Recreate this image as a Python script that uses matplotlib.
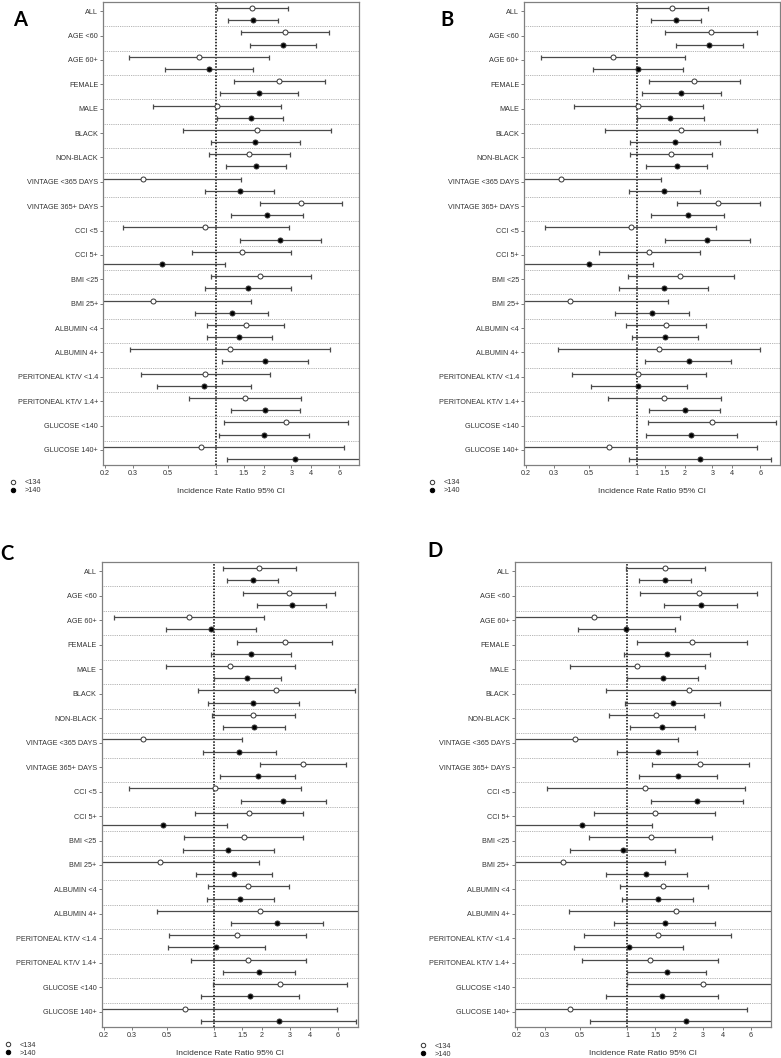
import numpy as np
import matplotlib.pyplot as plt
from matplotlib.lines import Line2D

plt.rcParams['font.family'] = ['Liberation Sans', 'DejaVu Sans']

groups = ['ALL', 'AGE <60', 'AGE 60+', 'FEMALE', 'MALE', 'BLACK', 'NON-BLACK',
          'VINTAGE <365 DAYS', 'VINTAGE 365+ DAYS', 'CCI <5', 'CCI 5+', 'BMI <25', 'BMI 25+',
          'ALBUMIN <4', 'ALBUMIN 4+', 'PERITONEAL KT/V <1.4', 'PERITONEAL KT/V 1.4+',
          'GLUCOSE <140', 'GLUCOSE 140+']
xticks = [0.2, 0.3, 0.5, 1, 1.5, 2, 3, 4, 6]
xtick_labels = ['0.2', '0.3', '0.5', '1', '1.5', '2', '3', '4', '6']
series_labels = ['<134', '>140']

# (IRR, lower 95% CI, upper 95% CI) per subgroup
a_lt134 = [(1.70, 1.02, 2.85), (2.74, 1.45, 5.20), (0.78, 0.281, 2.17), (2.51, 1.31, 4.88),
           (1.01, 0.402, 2.56), (1.82, 0.622, 5.33), (1.62, 0.90, 2.92), (0.348, 0.15, 1.44),
           (3.44, 1.89, 6.28), (0.86, 0.261, 2.88), (1.47, 0.71, 2.99), (1.91, 0.925, 4.0),
           (0.402, 0.15, 1.66), (1.55, 0.88, 2.70), (1.23, 0.289, 5.22), (0.86, 0.338, 2.20),
           (1.52, 0.675, 3.44), (2.77, 1.13, 6.85), (0.80, 0.15, 6.40)]
a_gt140 = [(1.72, 1.20, 2.48), (2.64, 1.64, 4.30), (0.90, 0.479, 1.71), (1.87, 1.06, 3.30),
           (1.66, 1.02, 2.66), (1.76, 0.925, 3.38), (1.79, 1.16, 2.77), (1.41, 0.86, 2.32),
           (2.09, 1.24, 3.56), (2.55, 1.41, 4.58), (0.454, 0.15, 1.15), (1.60, 0.85, 3.0),
           (1.26, 0.74, 2.14), (1.40, 0.88, 2.27), (2.05, 1.10, 3.79), (0.84, 0.426, 1.66),
           (2.05, 1.24, 3.41), (2.02, 1.05, 3.88), (3.16, 1.18, 9.0)]

b_lt134 = [(1.67, 1.0, 2.82), (2.93, 1.50, 5.71), (0.708, 0.25, 2.02), (2.30, 1.19, 4.50),
           (1.02, 0.404, 2.61), (1.90, 0.633, 5.71), (1.64, 0.90, 2.99), (0.333, 0.15, 1.43),
           (3.26, 1.78, 5.97), (0.916, 0.265, 3.17), (1.20, 0.577, 2.51), (1.88, 0.877, 4.08),
           (0.378, 0.15, 1.58), (1.53, 0.856, 2.74), (1.38, 0.319, 5.97), (1.02, 0.391, 2.73),
           (1.49, 0.655, 3.40), (2.96, 1.17, 7.54), (0.668, 0.15, 5.71)]
b_gt140 = [(1.76, 1.22, 2.53), (2.86, 1.76, 4.66), (1.02, 0.531, 1.96), (1.91, 1.08, 3.40),
           (1.61, 1.0, 2.65), (1.73, 0.90, 3.36), (1.78, 1.14, 2.78), (1.48, 0.89, 2.49),
           (2.09, 1.22, 3.56), (2.79, 1.51, 5.16), (0.496, 0.15, 1.26), (1.48, 0.769, 2.82),
           (1.24, 0.73, 2.13), (1.50, 0.925, 2.42), (2.12, 1.13, 3.95), (1.02, 0.513, 2.06),
           (2.0, 1.20, 3.34), (2.20, 1.14, 4.29), (2.51, 0.898, 7.05)]

c_lt134 = [(1.92, 1.13, 3.26), (2.96, 1.51, 5.80), (0.693, 0.234, 2.07), (2.78, 1.39, 5.55),
           (1.25, 0.493, 3.22), (2.45, 0.79, 7.67), (1.76, 0.967, 3.22), (0.352, 0.15, 1.50),
           (3.64, 1.94, 6.77), (1.01, 0.29, 3.53), (1.65, 0.76, 3.60), (1.53, 0.639, 3.65),
           (0.456, 0.15, 1.91), (1.64, 0.917, 2.97), (1.95, 0.433, 9.0), (1.39, 0.517, 3.80),
           (1.63, 0.707, 3.78), (2.58, 0.986, 6.87), (0.655, 0.15, 5.92)]
c_gt140 = [(1.76, 1.21, 2.53), (3.07, 1.87, 5.07), (0.948, 0.493, 1.84), (1.70, 0.948, 3.06),
           (1.61, 1.0, 2.65), (1.76, 0.917, 3.40), (1.78, 1.14, 2.78), (1.44, 0.845, 2.45),
           (1.88, 1.09, 3.22), (2.72, 1.47, 5.05), (0.476, 0.15, 1.21), (1.22, 0.633, 2.38),
           (1.33, 0.771, 2.31), (1.46, 0.904, 2.38), (2.47, 1.28, 4.85), (1.03, 0.512, 2.09),
           (1.91, 1.13, 3.22), (1.68, 0.829, 3.42), (2.55, 0.829, 7.82)]

d_lt134 = [(1.74, 0.985, 3.09), (2.82, 1.21, 6.53), (0.614, 0.15, 2.14), (2.56, 1.15, 5.70),
           (1.15, 0.433, 3.10), (2.46, 0.737, 9.0), (1.52, 0.763, 3.06), (0.466, 0.15, 2.09),
           (2.88, 1.44, 5.82), (1.30, 0.309, 5.52), (1.49, 0.614, 3.59), (1.40, 0.571, 3.42),
           (0.395, 0.15, 1.72), (1.69, 0.895, 3.22), (2.03, 0.427, 9.0), (1.55, 0.536, 4.52),
           (1.38, 0.515, 3.71), (3.0, 1.0, 9.0), (0.437, 0.15, 5.68)]
d_gt140 = [(1.73, 1.19, 2.53), (2.91, 1.71, 4.93), (0.985, 0.486, 2.01), (1.79, 0.957, 3.34),
           (1.67, 1.0, 2.80), (1.93, 0.962, 3.86), (1.66, 1.04, 2.67), (1.55, 0.865, 2.76),
           (2.09, 1.18, 3.69), (2.74, 1.41, 5.36), (0.52, 0.15, 1.42), (0.934, 0.437, 2.01),
           (1.32, 0.734, 2.39), (1.55, 0.921, 2.58), (1.72, 0.828, 3.59), (1.02, 0.463, 2.26),
           (1.77, 1.0, 3.13), (1.65, 0.737, 3.73), (2.34, 0.582, 9.0)]

W, H = 781, 1058
TXT = '#333333'


def draw_panel(ax, open_data, fill_data):
    n = len(groups)
    ax.set_xscale('log')
    for data, y_off, face in [(open_data, 0.25, 'white'), (fill_data, 0.75, 'black')]:
        d = np.array(data)
        est, lo, hi = d[:, 0], d[:, 1], d[:, 2]
        y = np.arange(n) + y_off
        ax.errorbar(est, y, xerr=[est - lo, hi - est], fmt='none', ecolor='#4a4a4a',
                    elinewidth=0.9, capsize=1.8, capthick=0.9, zorder=2)
        ax.plot(est, y, 'o', ms=3.6, mfc=face, mec='#333333', mew=0.7, zorder=3)
    for i in range(1, n):
        ax.axhline(i, color='#9a9a9a', ls=(0, (1, 1.2)), lw=0.6, zorder=1)
    ax.axvline(1, color='black', ls=(0, (1, 1)), lw=1.1, zorder=1)
    ax.set_xlim(0.194, 8.0)
    ax.set_ylim(n, 0)
    ax.set_xticks(xticks)
    ax.set_xticklabels(xtick_labels)
    ax.minorticks_off()
    ax.set_yticks(np.arange(n) + 0.38)
    ax.set_yticklabels(groups)
    ax.tick_params(labelsize=5.2, length=2, width=0.6, color='#666666', labelcolor=TXT, pad=1.5)
    for s in ax.spines.values():
        s.set_color('#808080')
        s.set_linewidth(0.9)
    ax.set_xlabel('Incidence Rate Ratio 95% CI', fontsize=6, color=TXT, labelpad=8)


fig = plt.figure(figsize=(W / 100, H / 100), dpi=100)

panels = [
    ('A', a_lt134, a_gt140, (103, 2, 359, 465), (13, 26), (9.5, 479)),
    ('B', b_lt134, b_gt140, (524, 2, 780, 465), (440, 26), (428.5, 479)),
    ('C', c_lt134, c_gt140, (101.5, 562, 357.5, 1027), (0, 560), (4.5, 1041.5)),
    ('D', d_lt134, d_gt140, (514.5, 562, 770.5, 1027), (427, 557), (419.5, 1042.5)),
]

for letter, op, fl, (x0, y0, x1, y1), (lx, ly), (gx, gy) in panels:
    ax = fig.add_axes([x0 / W, 1 - y1 / H, (x1 - x0) / W, (y1 - y0) / H])
    draw_panel(ax, op, fl)
    fig.text(lx / W, 1 - ly / H, letter, fontsize=14.5, fontweight='bold',
             family=['Lato', 'DejaVu Sans'], va='baseline', ha='left')
    handles = [Line2D([], [], ls='none', marker='o', ms=3.2, mfc='white', mec='#333333', mew=0.7),
               Line2D([], [], ls='none', marker='o', ms=3.2, mfc='black', mec='black', mew=0.7)]
    leg = ax.legend(handles, series_labels, loc='upper left', bbox_to_anchor=(gx / W, 1 - gy / H),
                    bbox_transform=fig.transFigure, frameon=False, fontsize=5.2, borderpad=0,
                    handlelength=1.0, handletextpad=1.1, labelspacing=0.15, borderaxespad=0)
    for t in leg.get_texts():
        t.set_color(TXT)

fig.savefig('out.png', dpi=100)
